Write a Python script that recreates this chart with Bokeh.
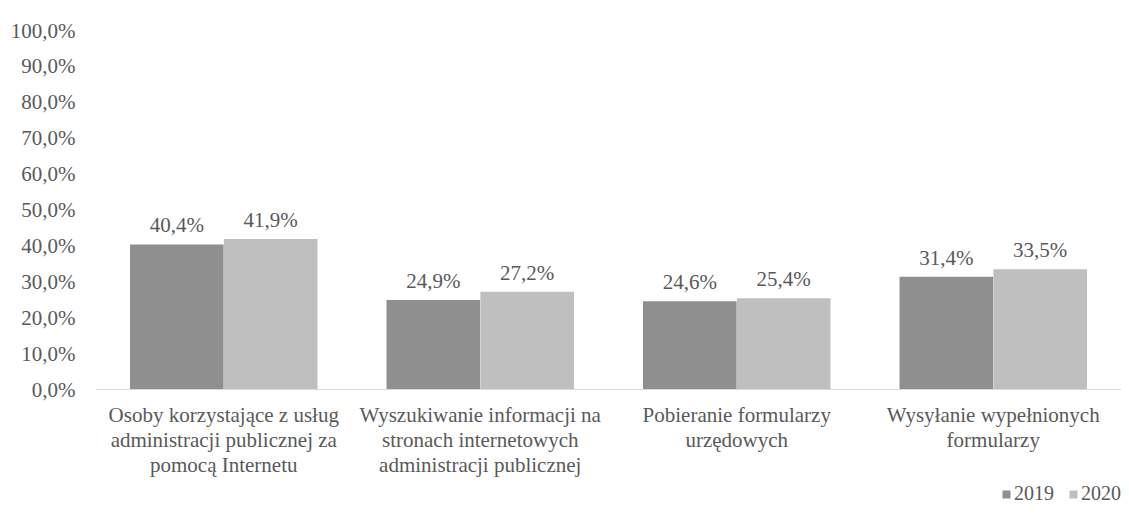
from bokeh.plotting import figure
from bokeh.models import ColumnDataSource, FixedTicker, Legend, LegendItem, LabelSet, Span, Range1d
from bokeh.transform import dodge
from bokeh.embed import file_html
from bokeh.resources import INLINE

categories = [
    "Osoby korzystające z usług\nadministracji publicznej za\npomocą Internetu",
    "Wyszukiwanie informacji na\nstronach internetowych\nadministracji publicznej",
    "Pobieranie formularzy\nurzędowych",
    "Wysyłanie wypełnionych\nformularzy",
]
values_2019 = [40.4, 24.9, 24.6, 31.4]
values_2020 = [41.9, 27.2, 25.4, 33.5]
series_names = ["2019", "2020"]
y_ticks = [0, 10, 20, 30, 40, 50, 60, 70, 80, 90, 100]

FONT = "Liberation Serif"
TXT = "#595959"
C1 = "#8f8f8f"
C2 = "#bfbfbf"
FS = "21px"

def fmt(v):
    return ("%.1f%%" % v).replace(".", ",")

src = ColumnDataSource(dict(
    cat=categories,
    zero=[0] * len(categories),
    v19=values_2019,
    v20=values_2020,
    l19=[fmt(v) for v in values_2019],
    l20=[fmt(v) for v in values_2020],
))

H = 507
TOP = 30
PLOT_H = 359  # pixels from 100% to 0%
y_start = -(H - TOP - PLOT_H) / PLOT_H * 100

p = figure(x_range=categories, y_range=Range1d(y_start, 100), width=1121, height=H,
           output_backend="svg", toolbar_location=None,
           min_border_left=95, min_border_right=0, min_border_top=TOP, min_border_bottom=0)

r1 = p.vbar(x=dodge("cat", -0.183, range=p.x_range), top="v19", width=0.365,
            source=src, fill_color=C1, line_color=None)
r2 = p.vbar(x=dodge("cat", 0.183, range=p.x_range), top="v20", width=0.365,
            source=src, fill_color=C2, line_color=None)

for col, lab, off in [("v19", "l19", -0.183), ("v20", "l20", 0.183)]:
    ls = LabelSet(x=dodge("cat", off, range=p.x_range), y=col, text=lab, source=src,
                  text_align="center", text_baseline="bottom", y_offset=7,
                  text_font=FONT, text_font_size=FS, text_color=TXT)
    p.add_layout(ls)

# category labels under the baseline, one centred line at a time
split = [c.split("\n") for c in categories]
nlines = max(len(s) for s in split)
for i in range(nlines):
    line_src = ColumnDataSource(dict(
        cat=categories,
        zero=[0] * len(categories),
        txt=[s[i] if i < len(s) else "" for s in split],
    ))
    cl = LabelSet(x="cat", y="zero", text="txt", source=line_src,
                  text_align="center", text_baseline="top", y_offset=-13 - 25 * i,
                  text_font=FONT, text_font_size=FS, text_color=TXT)
    p.add_layout(cl)

p.add_layout(Span(location=0, dimension="width", line_color="#d9d9d9", line_width=1))

p.xgrid.visible = False
p.ygrid.visible = False
p.outline_line_color = None
p.xaxis.visible = False

p.yaxis.ticker = FixedTicker(ticks=y_ticks)
p.yaxis.major_label_overrides = {t: fmt(t) for t in y_ticks}
p.yaxis.axis_line_color = None
p.yaxis.major_tick_line_color = None
p.yaxis.minor_tick_line_color = None
p.yaxis.major_label_text_font = FONT
p.yaxis.major_label_text_font_size = FS
p.yaxis.major_label_text_color = TXT
p.yaxis.major_label_standoff = 14

legend = Legend(items=[LegendItem(label=series_names[0], renderers=[r1]),
                       LegendItem(label=series_names[1], renderers=[r2])],
                orientation="horizontal", location=(906, 2),
                label_text_font=FONT, label_text_font_size="20px", label_text_color=TXT,
                glyph_width=10, glyph_height=10, label_standoff=3, spacing=14,
                padding=0, margin=0, border_line_color=None, background_fill_alpha=0)
p.add_layout(legend, "center")

open("out.html", "w").write(file_html(p, INLINE))
